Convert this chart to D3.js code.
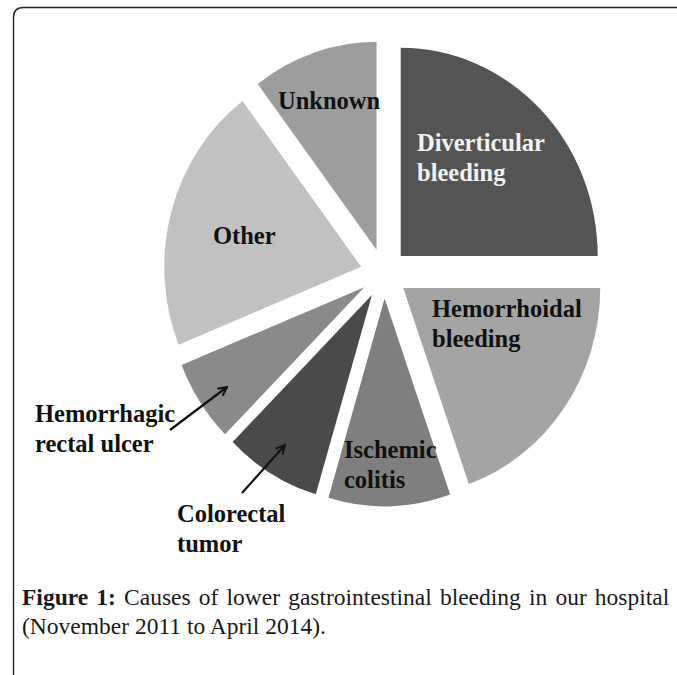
<!DOCTYPE html>
<html>
<head>
<meta charset="utf-8">
<script src="https://cdn.jsdelivr.net/npm/d3@7"></script>
<style>
body{margin:0;background:#fff;}
</style>
</head>
<body>
<div id="chart"></div>
<script>
//width and height
var w = 677;
var h = 675;

// causes of lower GI bleeding, share in percent (clockwise from 12 o'clock)
var causes = ["Diverticular bleeding", "Hemorrhoidal bleeding", "Ischemic colitis",
              "Colorectal tumor", "Hemorrhagic rectal ulcer", "Other", "Unknown"];
var shares = [25, 19.6, 10, 7.9, 6.4, 20.8, 10.3];
var shades = ["#545454", "#a4a4a4", "#7f7f7f", "#4a4a4a", "#8a8a8a", "#c1c1c1", "#9d9d9d"];

var captionBold = "Figure 1:";
var captionLine1 = "Causes of lower gastrointestinal bleeding in our hospital";
var captionLine2 = "(November 2011 to April 2014).";

// pie geometry
var cx = 384, cy = 273.5;
var r = 197;
var stretch = 1.056;   // picture is a bit taller than wide
var explode = 23.6;

var svg = d3.select("#chart")
            .append("svg")
            .attr("width", w)
            .attr("height", h);

// frame with rounded top-left corner
svg.append("path")
    .attr("d", "M13.5," + h + " L13.5,17.5 Q13.5,7.5 23.5,7.5 L" + w + ",7.5")
    .attr("fill", "none")
    .attr("stroke", "#222")
    .attr("stroke-width", 1.4);

var pie = d3.pie()
            .sort(null)
            .value(function(d){ return d; });

var arc = d3.arc()
            .innerRadius(0)
            .outerRadius(r);

var slices = pie(shares);

var g = svg.append("g")
            .attr("transform", "translate(" + cx + "," + cy + ") scale(1," + stretch + ")");

g.selectAll("path")
    .data(slices)
    .enter()
    .append("path")
    .attr("d", arc)
    .attr("fill", function(d, i){ return shades[i]; })
    .attr("transform", function(d){
        var mid = (d.startAngle + d.endAngle) / 2;
        return "translate(" + (Math.sin(mid) * explode) + "," + (-Math.cos(mid) * explode) + ")";
    });

// slice labels
var labels = [
    {lines: ["Diverticular", "bleeding"], x: 417, y: 151, fill: "#f2f2f2"},
    {lines: ["Hemorrhoidal", "bleeding"], x: 432, y: 317, fill: "#111"},
    {lines: ["Ischemic", "colitis"], x: 344, y: 458, fill: "#111"},
    {lines: ["Colorectal", "tumor"], x: 177, y: 522, fill: "#111"},
    {lines: ["Hemorrhagic", "rectal ulcer"], x: 35, y: 422, fill: "#111"},
    {lines: ["Other"], x: 213, y: 244, fill: "#111"},
    {lines: ["Unknown"], x: 278, y: 109, fill: "#111"}
];

var txt = svg.selectAll("text.lab")
    .data(labels)
    .enter()
    .append("text")
    .attr("class", "lab")
    .attr("font-family", "'Liberation Serif', 'Times New Roman', serif")
    .attr("font-weight", "bold")
    .attr("font-size", 24.5)
    .attr("fill", function(d){ return d.fill; });

txt.selectAll("tspan")
    .data(function(d){ return d.lines.map(function(l, i){ return {t: l, x: d.x, y: d.y + i * 30}; }); })
    .enter()
    .append("tspan")
    .attr("x", function(d){ return d.x; })
    .attr("y", function(d){ return d.y; })
    .text(function(d){ return d.t; });

// arrows for the two small slices
svg.append("defs").append("marker")
    .attr("id", "head")
    .attr("viewBox", "0 0 10 10")
    .attr("refX", 9)
    .attr("refY", 5)
    .attr("markerWidth", 5)
    .attr("markerHeight", 5)
    .attr("orient", "auto")
    .append("path")
    .attr("d", "M1,1 L9,5 L1,9")
    .attr("fill", "none")
    .attr("stroke", "#111")
    .attr("stroke-width", 1.8);

var arrows = [
    {x1: 170, y1: 430, x2: 227, y2: 387},
    {x1: 242, y1: 493, x2: 285, y2: 445}
];

svg.selectAll("line.arrow")
    .data(arrows)
    .enter()
    .append("line")
    .attr("class", "arrow")
    .attr("x1", function(d){ return d.x1; })
    .attr("y1", function(d){ return d.y1; })
    .attr("x2", function(d){ return d.x2; })
    .attr("y2", function(d){ return d.y2; })
    .attr("stroke", "#111")
    .attr("stroke-width", 2.2)
    .attr("marker-end", "url(#head)");

// caption
var cap = svg.append("text")
    .attr("font-family", "'Liberation Serif', 'Times New Roman', serif")
    .attr("font-size", 23.5)
    .attr("fill", "#1a1a1a");

var l1 = cap.append("tspan").attr("x", 22).attr("y", 605);
l1.append("tspan").attr("font-weight", "bold").text(captionBold);
l1.append("tspan").text(" " + captionLine1);

cap.append("tspan").attr("x", 22).attr("y", 634).text(captionLine2);

// justify first line out to the right edge
var used = l1.node().getComputedTextLength();
var gaps = captionLine1.split(" ").length;   // spaces on the line
var spare = (667 - 22) - used;
if (spare > 0) {
    l1.attr("word-spacing", spare / gaps);
}
</script>
</body>
</html>
